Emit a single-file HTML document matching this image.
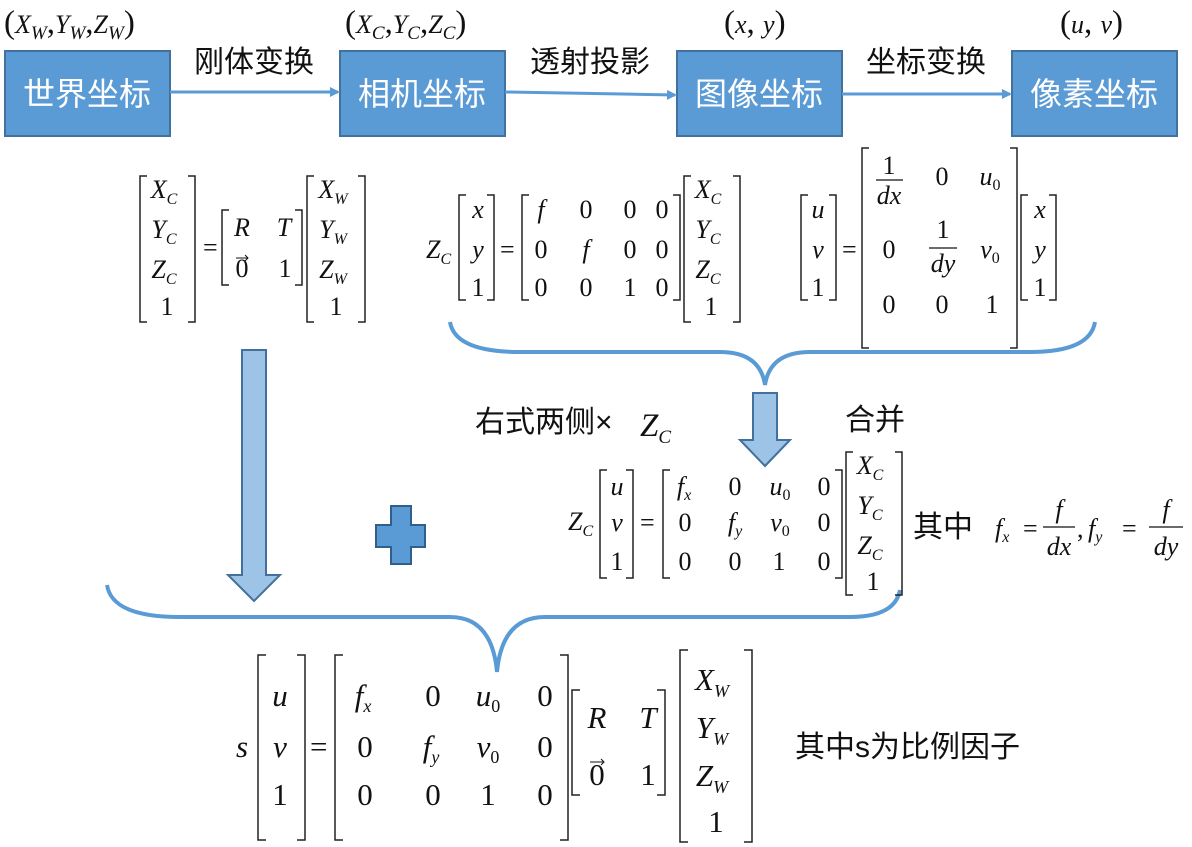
<!DOCTYPE html>
<html><head><meta charset="utf-8"><style>
body{margin:0;background:#fff;}
svg{display:block}
.m{font-family:"Liberation Serif",serif;font-style:italic;font-size:26px;fill:#111}
.n{font-family:"Liberation Serif",serif;font-style:normal;font-size:26px;fill:#111}
.c{font-family:"Liberation Sans","Noto Sans CJK SC",sans-serif;font-size:30px;fill:#111}
.w{font-family:"Liberation Sans","Noto Sans CJK SC",sans-serif;font-size:32px;fill:#fff}
.b{fill:none;stroke:#222;stroke-width:1.5}
.s{font-size:16px}
.L text{font-size:31px}
.L .s{font-size:18px}
.T text{font-size:33px}
.T .s{font-size:19px}
.sub{font-style:normal}
</style></head><body>
<svg width="1192" height="847" viewBox="0 0 1192 847" xmlns="http://www.w3.org/2000/svg">
<defs><marker id="ah" markerWidth="10" markerHeight="10" refX="8" refY="5" orient="auto" markerUnits="userSpaceOnUse"><path d="M0,0 L10,5 L0,10 z" fill="#5b9bd5"/></marker></defs>
<!-- top coords -->
<g class="T">
<text class="n" x="4" y="33">(<tspan class="m">X</tspan><tspan class="m s" dy="6">W</tspan><tspan dy="-6">,</tspan><tspan class="m">Y</tspan><tspan class="m s" dy="6">W</tspan><tspan dy="-6">,</tspan><tspan class="m">Z</tspan><tspan class="m s" dy="6">W</tspan><tspan dy="-6">)</tspan></text>
<text class="n" x="345" y="33">(<tspan class="m">X</tspan><tspan class="m s" dy="6">C</tspan><tspan dy="-6">,</tspan><tspan class="m">Y</tspan><tspan class="m s" dy="6">C</tspan><tspan dy="-6">,</tspan><tspan class="m">Z</tspan><tspan class="m s" dy="6">C</tspan><tspan dy="-6">)</tspan></text>
<text class="n" x="724" y="33">(<tspan class="m">x</tspan>, <tspan class="m">y</tspan>)</text>
<text class="n" x="1060" y="33">(<tspan class="m">u</tspan>, <tspan class="m">v</tspan>)</text>
</g>
<!-- boxes -->
<g fill="#5b9bd5" stroke="#41719c" stroke-width="2">
<rect x="5" y="51" width="165" height="85"/><rect x="340" y="51" width="165" height="85"/>
<rect x="677" y="51" width="165" height="85"/><rect x="1012" y="51" width="165" height="85"/></g>
<text class="w" x="87" y="105" text-anchor="middle">世界坐标</text>
<text class="w" x="422" y="105" text-anchor="middle">相机坐标</text>
<text class="w" x="759" y="105" text-anchor="middle">图像坐标</text>
<text class="w" x="1094" y="105" text-anchor="middle">像素坐标</text>
<g stroke="#5b9bd5" stroke-width="3" marker-end="url(#ah)">
<line x1="170" y1="92" x2="338" y2="92"/><line x1="505" y1="92" x2="675" y2="95"/><line x1="842" y1="94" x2="1010" y2="94"/></g>
<text class="c" x="254" y="72" text-anchor="middle">刚体变换</text>
<text class="c" x="590" y="72" text-anchor="middle">透射投影</text>
<text class="c" x="926" y="72" text-anchor="middle">坐标变换</text>

<!-- matrix 1 -->
<path class="b" d="M147 176H140V322H147 M188 176H195V322H188 M229 210H222V285H229 M295 210H302V285H295 M314 176H307V322H314 M358 176H365V322H358"/>
<g class="m" text-anchor="middle">
<text x="164" y="198">X<tspan class="s" dy="6">C</tspan></text>
<text x="164" y="238">Y<tspan class="s" dy="6">C</tspan></text>
<text x="164" y="278">Z<tspan class="s" dy="6">C</tspan></text>
<text class="n" x="167" y="315">1</text>
<text x="242" y="236">R</text><text x="284" y="236">T</text>
<text class="n" x="242" y="277">0</text><text class="n" x="285" y="277">1</text>
<text x="333" y="198">X<tspan class="s" dy="6">W</tspan></text>
<text x="333" y="238">Y<tspan class="s" dy="6">W</tspan></text>
<text x="333" y="278">Z<tspan class="s" dy="6">W</tspan></text>
<text class="n" x="336" y="315">1</text></g>
<text class="n" x="203" y="256">=</text>
<path d="M236 258H248M245 255L248 258L245 261" stroke="#111" fill="none" stroke-width="1"/>

<!-- matrix 2 -->
<text class="m" x="426" y="258">Z<tspan class="s" dy="6">C</tspan></text>
<path class="b" d="M466 195H459V300H466 M487 195H494V300H487 M529 195H522V300H529 M673 195H680V300H673 M691 176H684V322H691 M733 176H740V322H733"/>
<g class="m" text-anchor="middle">
<text x="478" y="218">x</text><text x="478" y="258">y</text><text class="n" x="478" y="296">1</text>
<text x="541" y="218">f</text><text class="n" x="586" y="218">0</text><text class="n" x="630" y="218">0</text><text class="n" x="662" y="218">0</text>
<text class="n" x="541" y="258">0</text><text x="586" y="258">f</text><text class="n" x="630" y="258">0</text><text class="n" x="662" y="258">0</text>
<text class="n" x="541" y="296">0</text><text class="n" x="586" y="296">0</text><text class="n" x="630" y="296">1</text><text class="n" x="662" y="296">0</text>
<text x="708" y="198">X<tspan class="s" dy="6">C</tspan></text>
<text x="708" y="238">Y<tspan class="s" dy="6">C</tspan></text>
<text x="708" y="278">Z<tspan class="s" dy="6">C</tspan></text>
<text class="n" x="711" y="315">1</text></g>
<text class="n" x="500" y="258">=</text>

<!-- matrix 3 -->
<path class="b" d="M808 195H801V300H808 M829 195H836V300H829 M869 148H862V348H869 M1010 148H1017V348H1010 M1028 195H1021V300H1028 M1049 195H1056V300H1049"/>
<g class="m" text-anchor="middle">
<text x="818" y="218">u</text><text x="818" y="258">v</text><text class="n" x="818" y="296">1</text>
<text class="n" x="889" y="174">1</text><text x="889" y="204">dx</text>
<text class="n" x="942" y="185">0</text><text x="990" y="185">u<tspan class="s sub" dy="5">0</tspan></text>
<text class="n" x="889" y="258">0</text><text class="n" x="943" y="238">1</text><text x="943" y="272">dy</text>
<text x="990" y="258">v<tspan class="s sub" dy="5">0</tspan></text>
<text class="n" x="889" y="313">0</text><text class="n" x="942" y="313">0</text><text class="n" x="992" y="313">1</text>
<text x="1040" y="218">x</text><text x="1040" y="258">y</text><text class="n" x="1040" y="296">1</text></g>
<path stroke="#111" stroke-width="1.2" d="M876 180H903 M929 248H957"/>
<text class="n" x="842" y="258">=</text>

<!-- braces -->
<path d="M450 322 Q455 352 520 352 H720 Q760 352 765 385 Q770 352 810 352 H1030 Q1090 352 1095 322" fill="none" stroke="#5b9bd5" stroke-width="4"/>
<path d="M107 585 Q112 617 180 617 H450 Q492 617 497 672 Q502 617 545 617 H850 Q895 617 900 590" fill="none" stroke="#5b9bd5" stroke-width="4"/>

<!-- arrows -->
<path d="M753 393H777V440H790L765 466L740 440H753Z" fill="#9dc3e6" stroke="#41719c" stroke-width="2"/>
<path d="M242 350H266V575H280L254 601L228 575H242Z" fill="#9dc3e6" stroke="#41719c" stroke-width="2"/>
<path d="M391 506H411V525H425V547H411V564H391V547H376V525H391Z" fill="#5b9bd5" stroke="#2f5f8a" stroke-width="2"/>
<text class="c" x="475" y="432">右式两侧×</text>
<g class="T"><text class="m" x="640" y="436">Z<tspan class="s" dy="7">C</tspan></text></g>
<text class="c" x="845" y="430">合并</text>

<!-- matrix 4 -->
<text class="m" x="568" y="530">Z<tspan class="s" dy="6">C</tspan></text>
<path class="b" d="M607 470H600V578H607 M626 470H633V578H626 M670 470H663V578H670 M835 470H842V578H835 M853 452H846V595H853 M895 452H902V595H895"/>
<g class="m" text-anchor="middle">
<text x="617" y="495">u</text><text x="617" y="531">v</text><text class="n" x="617" y="570">1</text>
<text x="684" y="495">f<tspan class="s" dy="5">x</tspan></text><text class="n" x="735" y="495">0</text><text x="780" y="495">u<tspan class="s sub" dy="5">0</tspan></text><text class="n" x="824" y="495">0</text>
<text class="n" x="685" y="531">0</text><text x="735" y="531">f<tspan class="s" dy="5">y</tspan></text><text x="780" y="531">v<tspan class="s sub" dy="5">0</tspan></text><text class="n" x="824" y="531">0</text>
<text class="n" x="685" y="570">0</text><text class="n" x="735" y="570">0</text><text class="n" x="779" y="570">1</text><text class="n" x="824" y="570">0</text>
<text x="870" y="474">X<tspan class="s" dy="6">C</tspan></text>
<text x="870" y="514">Y<tspan class="s" dy="6">C</tspan></text>
<text x="870" y="554">Z<tspan class="s" dy="6">C</tspan></text>
<text class="n" x="873" y="590">1</text></g>
<text class="n" x="640" y="531">=</text>
<text class="c" x="913" y="537">其中</text>
<text class="m" x="995" y="537">f<tspan class="s" dy="5">x</tspan></text>
<text class="n" x="1023" y="537">=</text>
<text class="m" x="1059" y="518" text-anchor="middle">f</text><text class="m" x="1059" y="555" text-anchor="middle">dx</text>
<path stroke="#111" stroke-width="1.2" d="M1043 527H1075 M1149 527H1183"/>
<text class="n" x="1077" y="537">,</text>
<text class="m" x="1088" y="537">f<tspan class="s" dy="5">y</tspan></text>
<text class="n" x="1122" y="537">=</text>
<text class="m" x="1166" y="518" text-anchor="middle">f</text><text class="m" x="1166" y="555" text-anchor="middle">dy</text>

<!-- final -->
<g class="L">
<text class="m" x="236" y="757">s</text>
<path class="b" d="M266 655H258V840H266 M297 655H305V840H297 M343 655H335V840H343 M560 655H568V840H560 M580 690H572V795H580 M657 690H665V795H657 M688 650H680V842H688 M744 650H752V842H744"/>
<g class="m" text-anchor="middle">
<text x="280" y="706">u</text><text x="280" y="757">v</text><text class="n" x="280" y="805">1</text>
<text x="363" y="706">f<tspan class="s" dy="6">x</tspan></text><text class="n" x="433" y="706">0</text><text x="488" y="706">u<tspan class="s sub" dy="6">0</tspan></text><text class="n" x="545" y="706">0</text>
<text class="n" x="365" y="757">0</text><text x="431" y="757">f<tspan class="s" dy="6">y</tspan></text><text x="488" y="757">v<tspan class="s sub" dy="6">0</tspan></text><text class="n" x="545" y="757">0</text>
<text class="n" x="365" y="805">0</text><text class="n" x="433" y="805">0</text><text class="n" x="488" y="805">1</text><text class="n" x="545" y="805">0</text>
<text x="597" y="728">R</text><text x="648" y="728">T</text>
<text class="n" x="597" y="785">0</text><text class="n" x="648" y="785">1</text>
<text x="712" y="690">X<tspan class="s" dy="7">W</tspan></text>
<text x="712" y="738">Y<tspan class="s" dy="7">W</tspan></text>
<text x="712" y="786">Z<tspan class="s" dy="7">W</tspan></text>
<text class="n" x="716" y="832">1</text></g>
<text class="n" x="310" y="757">=</text>
<path d="M590 762H604M601 759L604 762L601 765" stroke="#111" fill="none" stroke-width="1"/>
</g>
<text class="c" x="795" y="757">其中s为比例因子</text>
</svg>
</body></html>
